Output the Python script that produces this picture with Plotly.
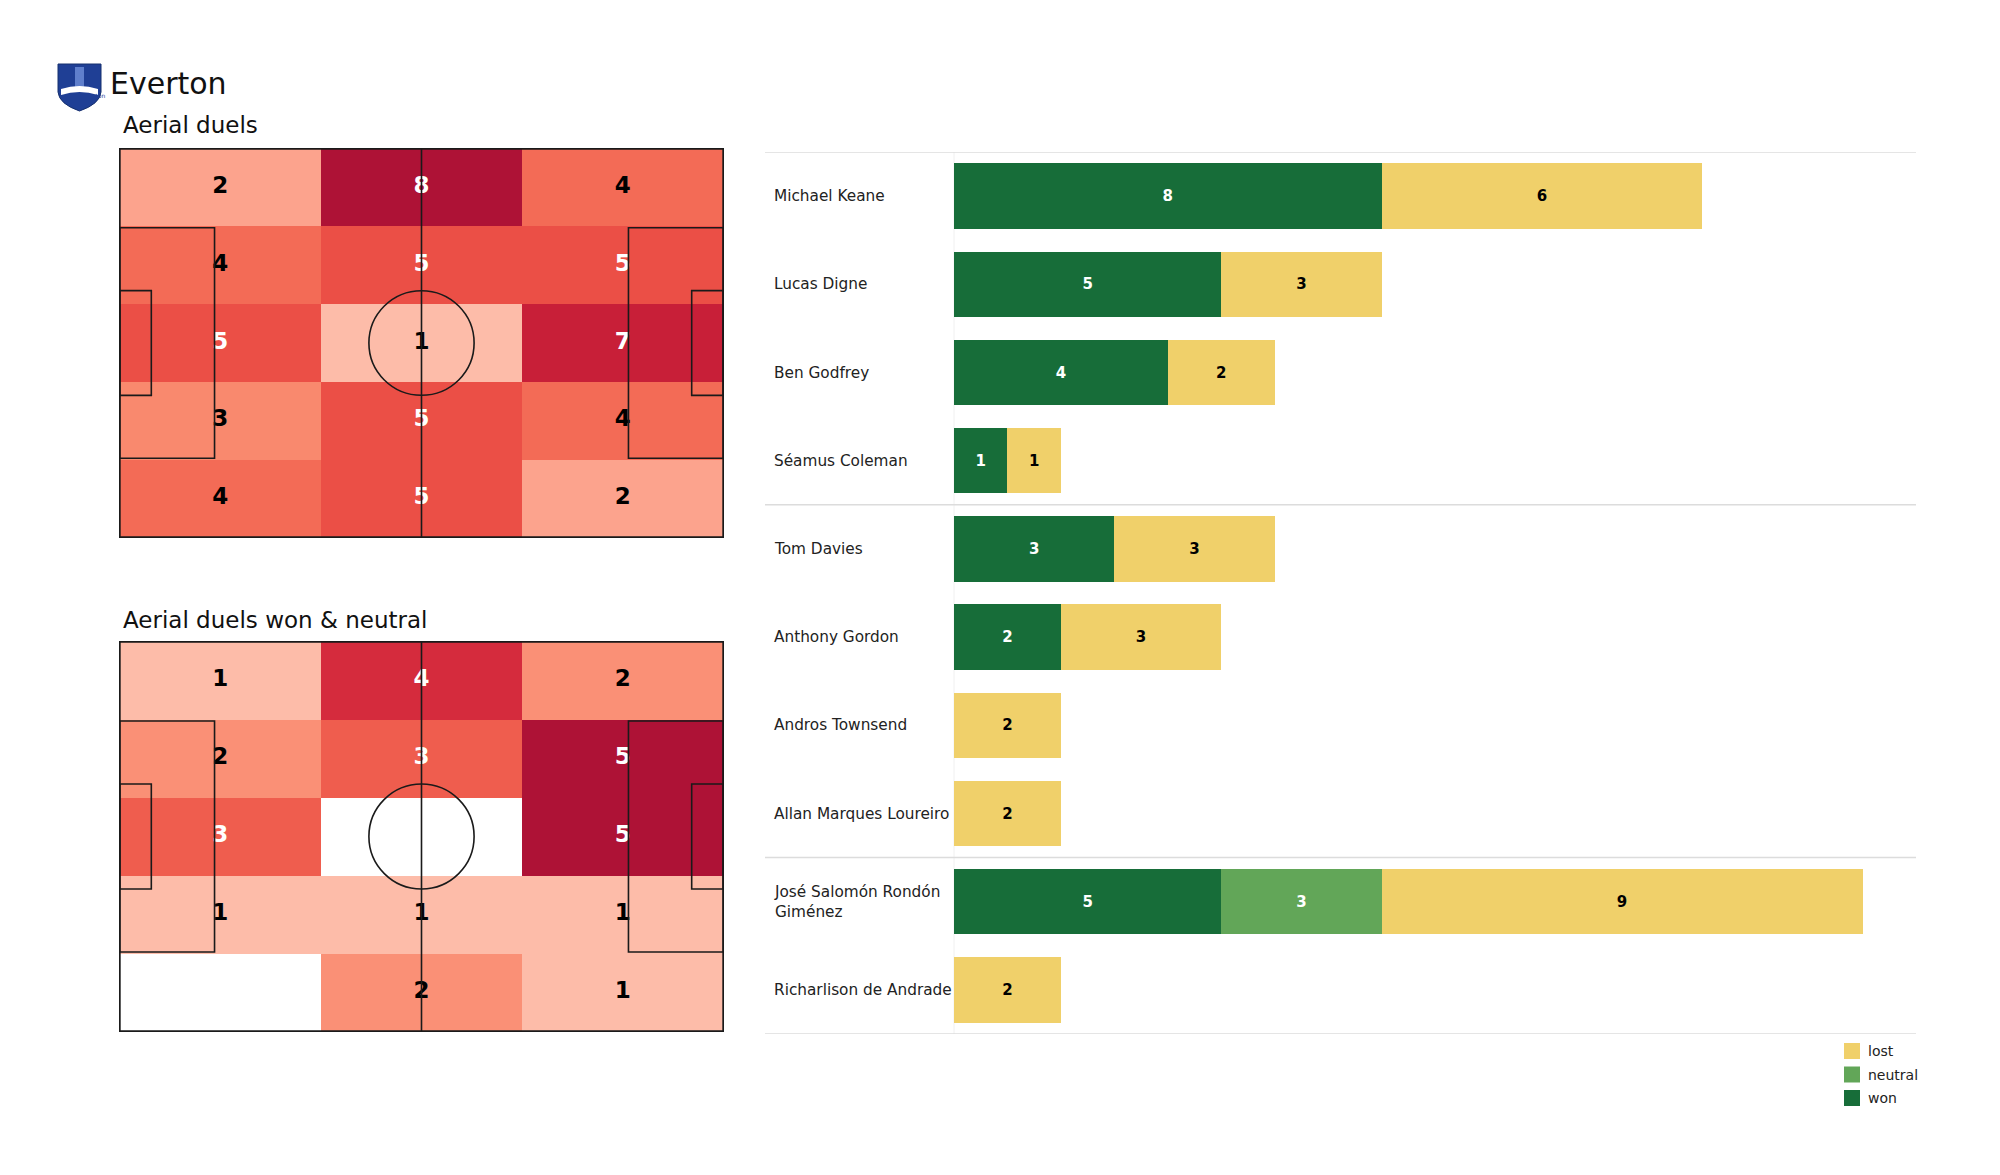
import plotly.graph_objects as go

# ---------------- data ----------------
team = "Everton"
title_all = "Aerial duels"
title_won = "Aerial duels won & neutral"

# zone grid (rows top -> bottom, cols left -> right)
zones_all = [
    [2, 8, 4],
    [4, 5, 5],
    [5, 1, 7],
    [3, 5, 4],
    [4, 5, 2],
]
zones_won = [
    [1, 4, 2],
    [2, 3, 5],
    [3, 0, 5],
    [1, 1, 1],
    [0, 2, 1],
]

players = [
    "Michael Keane", "Lucas Digne", "Ben Godfrey", "Séamus Coleman",
    "Tom Davies", "Anthony Gordon", "Andros Townsend", "Allan Marques Loureiro",
    "José Salomón Rondón Giménez", "Richarlison de Andrade",
]
won = [8, 5, 4, 1, 3, 2, 0, 0, 5, 0]
neutral = [0, 0, 0, 0, 0, 0, 0, 0, 3, 0]
lost = [6, 3, 2, 1, 3, 3, 2, 2, 9, 2]
group_breaks = [3.5, 7.5]

legend_labels = ["lost", "neutral", "won"]

# ---------------- style ----------------
W, H = 2000, 1175
C_WON, C_NEU, C_LOST = "#176D39", "#62A658", "#F0D06A"
FONT = "DejaVu Sans"
PL, PW = 105.0, 68.0  # pitch dims

def X(px):
    return px / W

def Y(py):
    return 1 - py / H

colorscale = [
    [0.0, "#FDBCA9"], [0.143, "#FCA38D"], [0.286, "#F9896E"], [0.43, "#F36B56"],
    [0.571, "#EB4F46"], [0.75, "#D52B3D"], [0.857, "#C81F38"], [1.0, "#AE1236"],
]

fig = go.Figure()

ncols, nrows = 3, 5
xc = [PL / ncols * (i + 0.5) for i in range(ncols)]
yc = [PW - PW / nrows * (j + 0.5) for j in range(nrows)]  # top row first


def add_pitch(z, xa, ya):
    vals = [v for r in z for v in r if v > 0]
    zmin, zmax = min(vals), max(vals)
    zz = [[(v if v > 0 else None) for v in r] for r in z]
    fig.add_trace(go.Heatmap(
        x=xc, y=yc, z=zz, colorscale=colorscale, zmin=zmin, zmax=zmax,
        showscale=False, hoverinfo="skip", xaxis=xa, yaxis=ya,
    ))
    tx, ty, tt, tc = [], [], [], []
    for j, r in enumerate(z):
        for i, v in enumerate(r):
            if v > 0:
                tx.append(xc[i]); ty.append(yc[j]); tt.append(str(v))
                tc.append("white" if (v - zmin) / (zmax - zmin) >= 0.5 else "black")
    fig.add_trace(go.Scatter(
        x=tx, y=ty, text=tt, mode="text",
        textfont=dict(family=FONT, size=23, color=tc, weight="bold"),
        hoverinfo="skip", showlegend=False, xaxis=xa, yaxis=ya,
    ))
    ln = dict(color="#1a1a1a", width=1.6)
    shapes = [
        dict(type="rect", x0=0, x1=PL, y0=0, y1=PW, line=dict(color="#1a1a1a", width=2)),
        dict(type="line", x0=PL / 2, x1=PL / 2, y0=0, y1=PW, line=ln),
        dict(type="circle", x0=PL / 2 - 9.15, x1=PL / 2 + 9.15, y0=PW / 2 - 9.15, y1=PW / 2 + 9.15, line=ln),
        dict(type="rect", x0=0, x1=16.5, y0=PW / 2 - 20.16, y1=PW / 2 + 20.16, line=ln),
        dict(type="rect", x0=0, x1=5.5, y0=PW / 2 - 9.16, y1=PW / 2 + 9.16, line=ln),
        dict(type="rect", x0=PL - 16.5, x1=PL, y0=PW / 2 - 20.16, y1=PW / 2 + 20.16, line=ln),
        dict(type="rect", x0=PL - 5.5, x1=PL, y0=PW / 2 - 9.16, y1=PW / 2 + 9.16, line=ln),
    ]
    for s in shapes:
        s.update(xref=xa, yref=ya, layer="above")
        fig.add_shape(**s)


add_pitch(zones_all, "x", "y")
add_pitch(zones_won, "x2", "y2")

# ---------------- bars ----------------
for name, vals, col, tcol in [("won", won, C_WON, "white"), ("neutral", neutral, C_NEU, "white"),
                               ("lost", lost, C_LOST, "black")]:
    fig.add_trace(go.Bar(
        x=vals, y=players, orientation="h", name=name, marker=dict(color=col, line=dict(width=0)),
        width=0.74, text=[str(v) if v > 0 else "" for v in vals], textposition="inside",
        insidetextanchor="middle", textangle=0,
        textfont=dict(family=FONT, size=15, color=tcol, weight="bold"),
        xaxis="x3", yaxis="y3", showlegend=False, hoverinfo="skip",
    ))

# ---------------- layout ----------------
pitch_x = [X(119), X(724)]
pad = 0.12
fig.update_layout(
    width=W, height=H, margin=dict(l=0, r=0, t=0, b=0),
    paper_bgcolor="white", plot_bgcolor="white",
    font=dict(family=FONT, color="#222"),
    barmode="stack", showlegend=False,
    xaxis=dict(domain=pitch_x, range=[-pad, PL + pad], visible=False, fixedrange=True),
    yaxis=dict(domain=[Y(538), Y(148)], range=[-pad, PW + pad], visible=False, fixedrange=True),
    xaxis2=dict(domain=pitch_x, range=[-pad, PL + pad], visible=False, fixedrange=True),
    yaxis2=dict(domain=[Y(1032), Y(641)], range=[-pad, PW + pad], visible=False, fixedrange=True),
    xaxis3=dict(domain=[X(954), X(1916)], range=[0, 18], visible=False, fixedrange=True),
    yaxis3=dict(domain=[Y(1034), Y(152)], type="category", categoryorder="array",
                categoryarray=players, range=[len(players) - 0.5, -0.5], visible=False, fixedrange=True),
)

# separators
sep_line = dict(color="#DCDCDC", width=1.5)
for yv in [-0.5] + group_breaks + [len(players) - 0.5]:
    fig.add_shape(type="line", xref="paper", yref="y3", x0=X(765), x1=X(1916), y0=yv, y1=yv, line=sep_line)
fig.add_shape(type="line", xref="paper", yref="y3", x0=X(954), x1=X(954), y0=-0.5, y1=len(players) - 0.5,
              line=dict(color="#F0F0F0", width=1), layer="below")


def wrap(s, n=22):
    if len(s) <= n:
        return s
    cut = s.rfind(" ", 0, n)
    return s[:cut] + "<br>" + s[cut + 1:]


for p in players:
    fig.add_annotation(x=X(772), y=p, xref="paper", yref="y3", text=wrap(p), showarrow=False,
                       xanchor="left", yanchor="middle", align="left",
                       font=dict(family=FONT, size=15.3, color="#222"))

# legend (manual)
leg_cols = {"lost": C_LOST, "neutral": C_NEU, "won": C_WON}
for k, lab in enumerate(legend_labels):
    cy = 1051 + k * 23.5
    fig.add_shape(type="rect", xref="paper", yref="paper", x0=X(1844), x1=X(1860), y0=Y(cy + 8), y1=Y(cy - 8),
                  fillcolor=leg_cols[lab], line=dict(width=0))
    fig.add_annotation(x=X(1866), y=Y(cy), xref="paper", yref="paper", text=lab, showarrow=False,
                       xanchor="left", yanchor="middle", font=dict(family=FONT, size=14, color="#222"))

# titles
fig.add_annotation(x=X(108), y=Y(83), xref="paper", yref="paper", text=team, showarrow=False,
                   xanchor="left", yanchor="middle", font=dict(family=FONT, size=30, color="#111"))
fig.add_annotation(x=X(121), y=Y(125), xref="paper", yref="paper", text=title_all, showarrow=False,
                   xanchor="left", yanchor="middle", font=dict(family=FONT, size=23, color="#111"))
fig.add_annotation(x=X(121), y=Y(620), xref="paper", yref="paper", text=title_won, showarrow=False,
                   xanchor="left", yanchor="middle", font=dict(family=FONT, size=23, color="#111"))

# simple crest
def P(px, py):
    return f"{X(px):.5f},{Y(py):.5f}"

crest = ("M " + P(58, 64) + " L " + P(101, 64) + " L " + P(101, 92) +
         " Q " + P(100, 104) + " " + P(79.5, 111) + " Q " + P(59, 104) + " " + P(58, 92) + " Z")
fig.add_shape(type="path", xref="paper", yref="paper", path=crest, fillcolor="#1F3F95",
              line=dict(color="#16306F", width=1))
fig.add_shape(type="rect", xref="paper", yref="paper", x0=X(75), x1=X(84), y0=Y(88), y1=Y(67),
              fillcolor="#5F7FCC", line=dict(width=0))
fig.add_shape(type="path", xref="paper", yref="paper",
              path="M " + P(61, 89) + " Q " + P(79.5, 83) + " " + P(98, 89) + " L " + P(98, 95) +
                   " Q " + P(79.5, 89) + " " + P(61, 95) + " Z",
              fillcolor="white", line=dict(width=0))
fig.add_annotation(x=X(79.5), y=Y(90.5), xref="paper", yref="paper", text="Everton", showarrow=False,
                   font=dict(family=FONT, size=6, color="#1F3F95"))

fig.write_html("out.html")
